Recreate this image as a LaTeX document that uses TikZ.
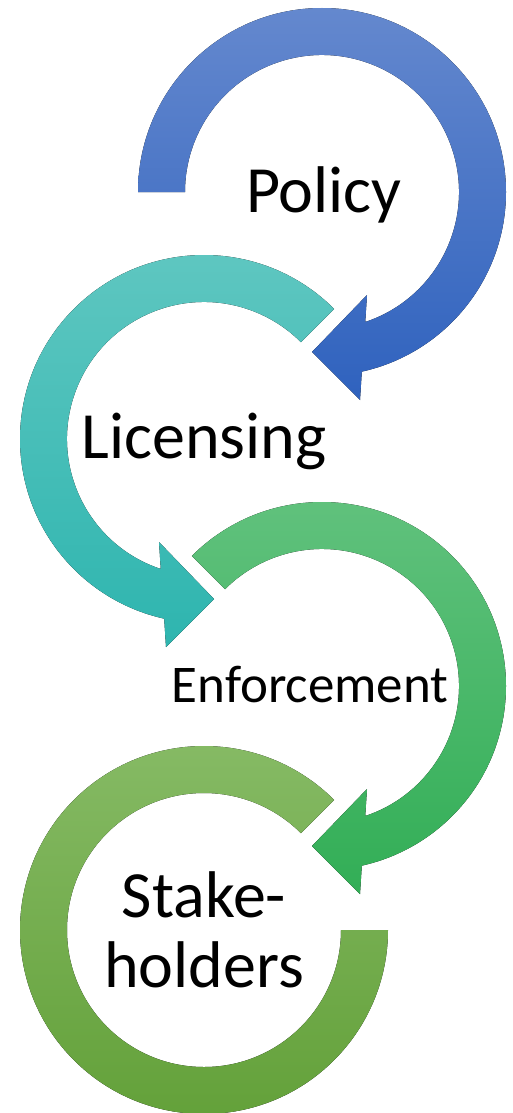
\documentclass[tikz,border=0pt]{standalone}
\usepackage{fontspec}
\setmainfont{Carlito}
\definecolor{blueT}{RGB}{100,136,206}
\definecolor{blueB}{RGB}{47,98,190}
\definecolor{tealT}{RGB}{96,199,193}
\definecolor{tealB}{RGB}{46,181,175}
\definecolor{greenT}{RGB}{98,194,126}
\definecolor{greenB}{RGB}{50,174,86}
\definecolor{limeT}{RGB}{135,187,102}
\definecolor{limeB}{RGB}{98,160,56}
\begin{document}
\begin{tikzpicture}[x=1pt,y=1pt,
  lbl/.style={inner sep=0pt, text=black, align=center},
  bigtext/.style={lbl, font=\fontsize{66}{70}\selectfont},
  midtext/.style={lbl, font=\fontsize{53}{60}\selectfont}]
\useasboundingbox (0,0) rectangle (513,-1113);
% Arrow 1: Policy
\begin{scope}[shift={(322,-192)}]
\fill[top color=blueT, bottom color=blueB]
  (180:184) arc[start angle=180, end angle=-77.5, radius=184]
  -- (38,-208) -- (-10,-160) -- (45,-103)
  -- (-71.6:137) arc[start angle=-71.6, end angle=180, radius=137] -- cycle;
\end{scope}
% Arrow 2: Licensing (mirrored)
\begin{scope}[shift={(204,-439)}, xscale=-1]
\fill[top color=tealT, bottom color=tealB]
  (135:184) arc[start angle=135, end angle=-77.5, radius=184]
  -- (38,-208) -- (-10,-160) -- (45,-103)
  -- (-71.6:137) arc[start angle=-71.6, end angle=135, radius=137] -- cycle;
\end{scope}
% Arrow 3: Enforcement
\begin{scope}[shift={(322,-686)}]
\fill[top color=greenT, bottom color=greenB]
  (135:184) arc[start angle=135, end angle=-77.5, radius=184]
  -- (38,-208) -- (-10,-160) -- (45,-103)
  -- (-71.6:137) arc[start angle=-71.6, end angle=135, radius=137] -- cycle;
\end{scope}
% Arrow 4: Stakeholders
\begin{scope}[shift={(204,-930)}]
\fill[top color=limeT, bottom color=limeB]
  (45:184) arc[start angle=45, end angle=360, radius=184]
  -- (0:137) arc[start angle=360, end angle=45, radius=137] -- cycle;
\end{scope}
% Labels
\node[bigtext, anchor=base] (policy) at (324,-212) {Policy};
\node[bigtext, anchor=base] (licensing) at (204,-458) {Licensing};
\node[midtext, anchor=base] (enforcement) at (310,-702) {Enforcement};
\node[bigtext, anchor=base] (stakeholders) at (204,-987) {Stake-\\holders};
\end{tikzpicture}
\end{document}
